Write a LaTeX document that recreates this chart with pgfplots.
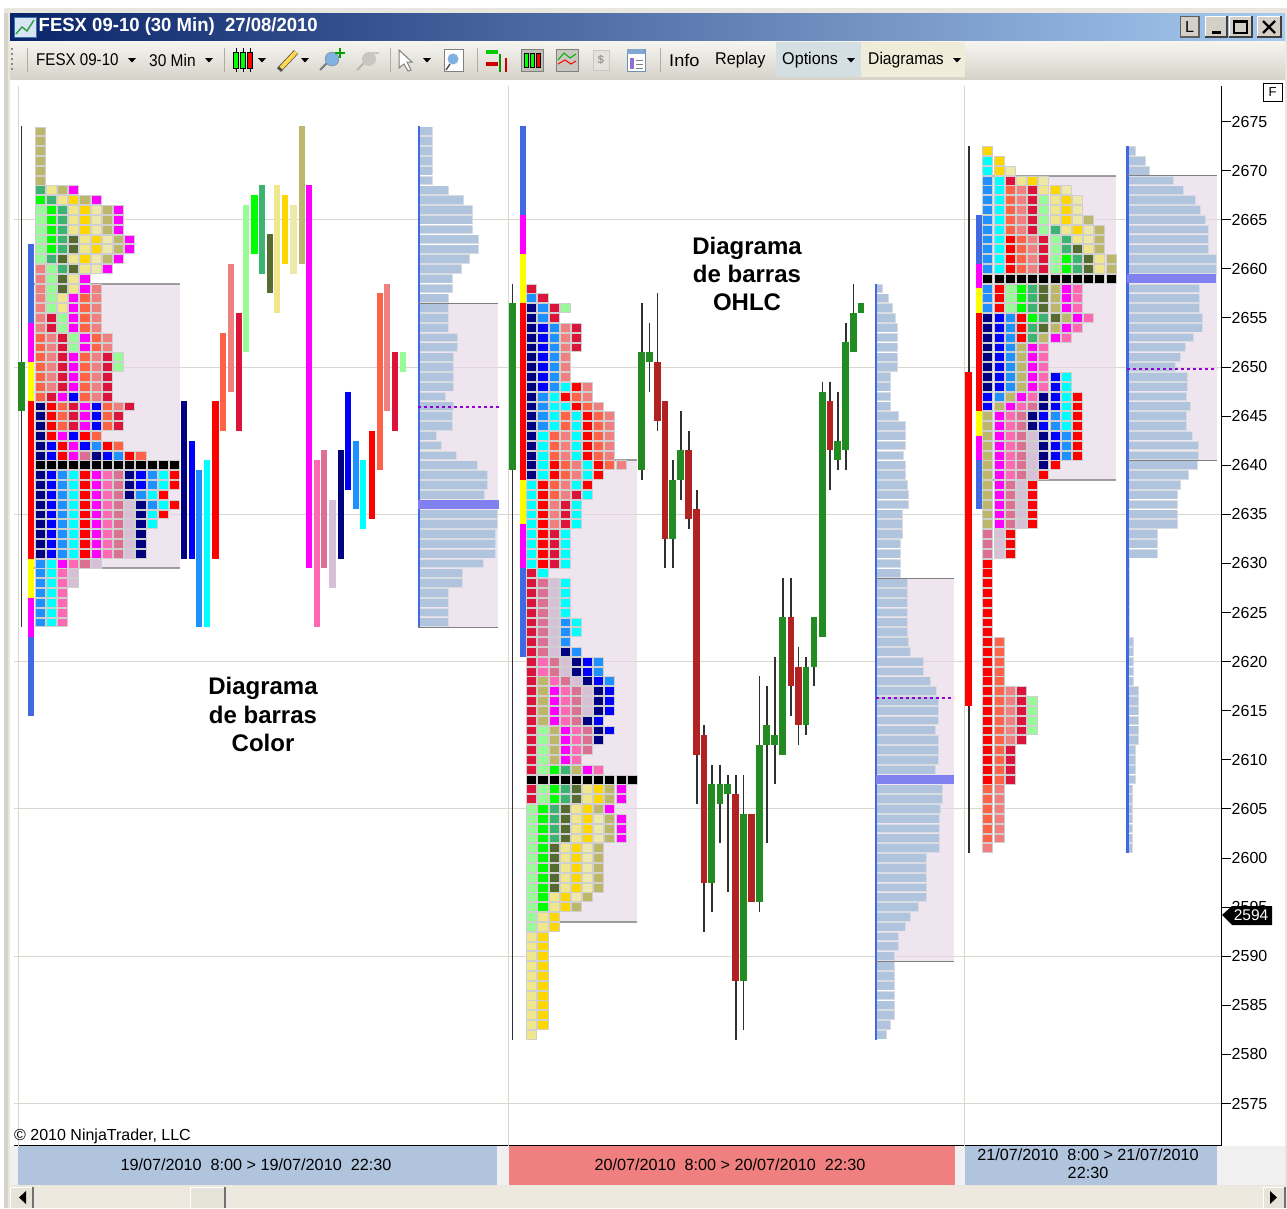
\documentclass[border=0pt]{standalone}
\usepackage{fontspec}
\setmainfont{Liberation Sans}
\usepackage{pgfplots}
\usepackage{pgfplotstable}
\pgfplotsset{compat=1.18}
\newcommand{\hc}[1]{\definecolor{#1}{HTML}{#1}}
\hc{E8E6DE}\hc{D6D3C9}\hc{0A246A}\hc{A6CAF0}\hc{F6F5F0}\hc{D6D3CA}\hc{D8E6F4}\hc{3C70B0}\hc{2E9B3C}\hc{D4D0C8}\hc{404040}\hc{606060}\hc{D3DFE3}\hc{EFECD9}\hc{8A8A80}\hc{B0ADA2}\hc{FFD94A}\hc{7A7A7A}\hc{7FB2E0}\hc{00A000}\hc{B8B6AE}\hc{C8C6BE}\hc{C0C0B8}\hc{C8C8C0}\hc{E4E2DC}\hc{7090B0}\hc{7FA8D0}\hc{9070D0}\hc{F0F0F0}\hc{EDE9DE}\hc{E6E3D8}\hc{707070}
\definecolor{cA}{HTML}{000080}\definecolor{cB}{HTML}{0000FF}\definecolor{cC}{HTML}{1E90FF}\definecolor{cD}{HTML}{00FFFF}
\definecolor{cE}{HTML}{FF0000}\definecolor{cF}{HTML}{FF6347}\definecolor{cG}{HTML}{F08080}\definecolor{cH}{HTML}{DC143C}
\definecolor{cI}{HTML}{98FB98}\definecolor{cJ}{HTML}{00FF00}\definecolor{cK}{HTML}{3CB371}\definecolor{cL}{HTML}{556B2F}
\definecolor{cM}{HTML}{F0E68C}\definecolor{cN}{HTML}{FFD700}\definecolor{cO}{HTML}{EEE8AA}\definecolor{cP}{HTML}{BDB76B}
\definecolor{cQ}{HTML}{FF00FF}\definecolor{cR}{HTML}{FF69B4}\definecolor{cS}{HTML}{DB7093}\definecolor{cT}{HTML}{D8BFD8}
\definecolor{cY}{HTML}{FFFF00}\definecolor{cV}{HTML}{4169E1}
\definecolor{cellb}{HTML}{CFCFCF}\definecolor{gridc}{HTML}{DAD7CF}\definecolor{vac}{HTML}{E6D6E6}
\definecolor{prof}{HTML}{B0C4DE}\definecolor{profb}{HTML}{D9DCE0}\definecolor{poc}{HTML}{8080F0}
\definecolor{cgreen}{HTML}{228B22}\definecolor{cred}{HTML}{B22222}\definecolor{dots}{HTML}{9400D3}
\definecolor{wick}{HTML}{303030}
\pgfdeclareplotmark{tpo}{\pgfpathrectangle{\pgfpoint{-5.05pt}{-4.45pt}}{\pgfpoint{10.1pt}{8.9pt}}\pgfusepathqfillstroke}
\pgfplotstableread{
p c0 c1 c2 c3 c4 c5 c6 c7 c8 c9 c10 c11 c12
2674 p z z z z z z z z z z z z
2673 p z z z z z z z z z z z z
2672 p z z z z z z z z z z z z
2671 p z z z z z z z z z z z z
2670 p z z z z z z z z z z z z
2669 p z z z z z z z z z z z z
2668 k m p q z z z z z z z z z
2667 j k m n p q z z z z z z z
2666 i j k m n o p q z z z z z
2665 i j k m n o p q z z z z z
2664 i j k m n o p q z z z z z
2663 i j k l m n o p q z z z z
2662 i j k l m n o p q z z z z
2661 i k l m n o p q z z z z z
2660 g i k l m o q z z z z z z
2659 g i l m q z z z z z z z z
2658 g i l m q g z z z z z z z
2657 g i m q f g z z z z z z z
2656 g i m q f g z z z z z z z
2655 g h i q f g z z z z z z z
2654 g h i q f g z z z z z z z
2653 f g h i q f g z z z z z z
2652 f g h i q f g z z z z z z
2651 f g h q f g h i z z z z z
2650 f g h q f g h i z z z z z
2649 f g h q f g h z z z z z z
2648 f g h q f g h z z z z z z
2647 f h q b f g h z z z z z z
2646 a e f h q b f g h z z z z
2645 a e f h q b f h z z z z z
2644 a e f h q b f h z z z z z
2643 a e q b e f z z z z z z z
2642 a b e q b c e f z z z z z
2641 a b e q s a b c e f z z z
2640 u u u u u u u u u u u u u
2639 a b c d e q r s a b c d e
2638 a b c d e q r s a b c d e
2637 a b c d e q r s a c d e z
2636 a b c d e q r s t a c d e
2635 a b c d e q r s t a d e z
2634 a b c d e q r s t a d z z
2633 a b c d e q r s t a z z z
2632 a b c d e q r s t a z z z
2631 a b c d e q r s t a z z z
2630 c d q r s t z z z z z z z
2629 c d r t z z z z z z z z z
2628 c d r t z z z z z z z z z
2627 c d r z z z z z z z z z z
2626 c d r z z z z z z z z z z
2625 c d r z z z z z z z z z z
2624 c d r z z z z z z z z z z
}\sessA
\pgfplotstableread{
p c0 c1 c2 c3 c4 c5 c6 c7 c8 c9
2658 h z z z z z z z z z
2657 c h z z z z z z z z
2656 a c h i z z z z z z
2655 a c h z z z z z z z
2654 a b c g h z z z z z
2653 a b c g h z z z z z
2652 a b c g h z z z z z
2651 a b c g z z z z z z
2650 a b c g z z z z z z
2649 a b c g z z z z z z
2648 a b c d e g z z z z
2647 a c d e f g z z z z
2646 a c d d e f g z z z
2645 a c d f d e f g z z
2644 a c d f d e f g z z
2643 a d f g d e f g z z
2642 a d f g d e f g z z
2641 a d f g d e f g z z
2640 a d e f g d e f g z
2639 a d e f g d e z z z
2638 d e f g d e z z z z
2637 d e f g h d z z z z
2636 d e g h d z z z z z
2635 d e g h d z z z z z
2634 d e g h d z z z z z
2633 d e h d z z z z z z
2632 d e h d z z z z z z
2631 d e h d z z z z z z
2630 d e h d z z z z z z
2629 h d z z z z z z z z
2628 h s t d z z z z z z
2627 h s t d z z z z z z
2626 h s t d z z z z z z
2625 h s t d z z z z z z
2624 h s t c d z z z z z
2623 h s t c d z z z z z
2622 h s t c z z z z z z
2621 h s t a c z z z z z
2620 h r s t a b c z z z
2619 h r s t a b c z z z
2618 h p r s t a b c z z
2617 h p q r s t a b z z
2616 h p q r s t a b z z
2615 h p q r s t a b z z
2614 h p q r s a b z z z
2613 h i p q r s a b z z
2612 h i p q r s a z z z
2611 h i p q r s z z z z
2610 h i p q r z z z z z
2609 h i j k p q r z z z
2608 u u u u u u u u u u
2607 h i j k l m n p q z
2606 h i j k l m n p q z
2605 i j k l m n p q z z
2604 i j k l m n o p q z
2603 i j k l m n o p q z
2602 i j k l m n o p q z
2601 i j l m n o p z z z
2600 i j l m n o p z z z
2599 i j l m n o p z z z
2598 i j l m n o p z z z
2597 i j l m n o p z z z
2596 i j m n o p z z z z
2595 i j m n p z z z z z
2594 i m n z z z z z z z
2593 i m n z z z z z z z
2592 m n z z z z z z z z
2591 m n z z z z z z z z
2590 m n z z z z z z z z
2589 m n z z z z z z z z
2588 m n z z z z z z z z
2587 m n z z z z z z z z
2586 m n z z z z z z z z
2585 m n z z z z z z z z
2584 m n z z z z z z z z
2583 m n z z z z z z z z
2582 m z z z z z z z z z
}\sessB
\pgfplotstableread{
p c0 c1 c2 c3 c4 c5 c6 c7 c8 c9 c10 c11
2672 n z z z z z z z z z z z
2671 d n z z z z z z z z z z
2670 d n o z z z z z z z z z
2669 c d h m n o z z z z z z
2668 c d f g h m n o z z z z
2667 c d f g h i m n o z z z
2666 c d f g h i m n o z z z
2665 c d f g h i m n o p z z
2664 c d f g h i k m n o p z
2663 c d e f g h i k m o p z
2662 c d e f g h i k l m p z
2661 c d e f g h i j k l m p
2660 c d e f g h i j k l m p
2659 u u u u u u u u u u u u
2658 c e i j k l p q r z z z
2657 c e i j k l p q r z z z
2656 c e i j k l p q r z z z
2655 a b c e j k l p q r z z
2654 a b c e k l p q r z z z
2653 a b c e k p q r z z z z
2652 a b c p q r z z z z z z
2651 a b c p q r z z z z z z
2650 a b c p q r z z z z z z
2649 a b c p q r b d z z z z
2648 a b c p q r b d z z z z
2647 b c p q r a b d e z z z
2646 b p q r s a b d e z z z
2645 p q r s a b c d e z z z
2644 p q r s a b c d e z z z
2643 p q r s t a b c e z z z
2642 p q r s t a b c e z z z
2641 p q r s t a b c e z z z
2640 p q r s t a e z z z z z
2639 p q r s t e z z z z z z
2638 p q s t e z z z z z z z
2637 p q s t e z z z z z z z
2636 p q s t e z z z z z z z
2635 p q s t e z z z z z z z
2634 p q s t e z z z z z z z
2633 s t e z z z z z z z z z
2632 s t e z z z z z z z z z
2631 s t e z z z z z z z z z
2630 e z z z z z z z z z z z
2629 e z z z z z z z z z z z
2628 e z z z z z z z z z z z
2627 e z z z z z z z z z z z
2626 e z z z z z z z z z z z
2625 e z z z z z z z z z z z
2624 e z z z z z z z z z z z
2623 e z z z z z z z z z z z
2622 e f z z z z z z z z z z
2621 e f z z z z z z z z z z
2620 e f z z z z z z z z z z
2619 e f z z z z z z z z z z
2618 e f z z z z z z z z z z
2617 e f g h z z z z z z z z
2616 e f g h i z z z z z z z
2615 e f g h i z z z z z z z
2614 e f g h i z z z z z z z
2613 e f g h i z z z z z z z
2612 e f g h z z z z z z z z
2611 e f h z z z z z z z z z
2610 e f h z z z z z z z z z
2609 e f h z z z z z z z z z
2608 e f h z z z z z z z z z
2607 f g z z z z z z z z z z
2606 f g z z z z z z z z z z
2605 f g z z z z z z z z z z
2604 f g z z z z z z z z z z
2603 f g z z z z z z z z z z
2602 f g z z z z z z z z z z
2601 g z z z z z z z z z z z
}\sessC
% right-hand profiles: price, right end of the bar
\pgfplotstableread{
p r
2674 431.7
2673 431.7
2672 431.7
2671 431.7
2670 431.7
2669 431.7
2668 448.3
2667 463.3
2666 472.3
2665 472.3
2664 472.3
2663 478.3
2662 478.3
2661 469.3
2660 460.7
2659 451.7
2658 451.7
2657 448.3
2656 448.3
2655 448.3
2654 448.3
2653 457.3
2652 457.3
2651 452.7
2650 452.7
2649 452.7
2648 452.7
2647 445
2646 453.3
2645 451.7
2644 451.7
2643 436
2642 441
2641 456
2640 476.7
2639 487
2638 487
2637 484.3
2635 496.7
2634 496.7
2633 495
2632 495
2631 495
2630 482.7
2629 461.7
2628 461.7
2627 448.3
2626 448.3
2625 448.3
2624 448.3
}\profA
\pgfplotstableread{
p r
2658 882
2657 888
2656 892
2655 895
2654 897
2653 897
2652 897
2651 897
2650 897
2649 890
2648 890
2647 890
2646 890
2645 898
2644 905
2643 905
2642 905
2641 903
2640 905
2639 905
2638 907
2637 908
2636 908
2635 902
2634 902
2633 902
2632 900
2631 900
2630 900
2629 900
2628 907
2627 907
2626 907
2625 907
2624 907
2623 907
2622 908
2621 910
2620 923
2619 923
2618 930
2617 936
2616 938
2615 938
2614 938
2613 935
2612 938
2611 938
2610 938
2609 935
2607 942
2606 942
2605 940
2604 939
2603 939
2602 939
2601 939
2600 926
2599 926
2598 926
2597 926
2596 926
2595 918
2594 910
2593 905
2592 898
2591 898
2590 894
2589 894
2588 894
2587 894
2586 894
2585 894
2584 894
2583 890
2582 886
}\profB
\pgfplotstableread{
p r
2672 1135
2671 1145
2670 1149
2669 1173
2668 1183
2667 1195
2666 1200
2665 1205
2664 1208
2663 1208
2662 1208
2661 1216
2660 1216
2658 1199
2657 1199
2656 1199
2655 1202
2654 1202
2653 1193
2652 1185
2651 1180
2650 1175
2649 1187
2648 1187
2647 1186
2646 1190
2645 1186
2644 1186
2643 1192
2642 1198
2641 1198
2640 1197
2639 1188
2638 1180
2637 1177
2636 1177
2635 1177
2634 1177
2633 1157
2632 1157
2631 1157
2630 1129
2629 1129
2628 1129
2627 1129
2626 1129
2625 1129
2624 1129
2623 1129
2622 1133
2621 1133
2620 1133
2619 1133
2618 1133
2617 1138
2616 1138
2615 1138
2614 1138
2613 1138
2612 1138
2611 1135
2610 1135
2609 1135
2608 1135
2607 1132
2606 1132
2605 1132
2604 1132
2603 1132
2602 1132
2601 1132
}\profC
% candles: x, high, low, body top, body bottom
\pgfplotstableread{
x hi lo top bot
641.7 2656.5 2638.5 2651.5 2639.5
649.3 2654.5 2647.5 2651.5 2650.5
672.7 2640.5 2629.5 2638.5 2632.5
680.7 2645.5 2636.5 2641.5 2638.5
711.7 2609.5 2594.5 2607.5 2597.5
720 2609.5 2601.5 2607.5 2605.5
727.7 2608.5 2596.5 2607.5 2606.5
743.3 2608.5 2582.5 2604.5 2587.5
759.3 2618.5 2594.5 2611.5 2595.5
766.7 2617.5 2601.5 2613.5 2611.5
774.7 2620.5 2607.5 2612.5 2611.5
782.7 2628.5 2610.5 2624.5 2610.5
806 2620.5 2612.5 2619.5 2613.5
814 2624.5 2617.5 2624.5 2619.5
822.3 2648.5 2622.5 2647.5 2622.5
837.7 2647.5 2639.5 2642.5 2640.5
845.7 2654.5 2639.5 2652.5 2641.5
853.3 2658.5 2651.5 2655.5 2651.5
861 2656.5 2655.5 2656.5 2655.5
512.5 2658.5 2581.5 2656.5 2639.5
21.5 2674.5 2623.5 2650.5 2645.5
}\candG
\pgfplotstableread{
x hi lo top bot
657.3 2657.5 2643.5 2650.5 2644.5
665 2646.5 2629.5 2646.5 2632.5
688.7 2643.5 2633.5 2641.5 2634.5
696.7 2637.5 2605.5 2635.5 2610.5
704 2613.5 2592.5 2612.5 2597.5
735.7 2608.5 2581.5 2606.5 2587.5
751.3 2604.5 2595.5 2604.5 2595.5
791 2628.5 2614.5 2624.5 2617.5
798.3 2621.5 2611.5 2619.5 2613.5
830 2648.5 2637.5 2646.5 2641.5
}\candR
\pgfplotsset{nomark/.style={only marks,mark size=0pt,mark options={draw=none,fill=none},forget plot}}
\newcommand{\cnd}[3]{%
 \addplot[nomark,error bars/.cd,y dir=minus,y explicit,error mark=none,error bar style={line width=1.6pt,color=wick,solid}]
  table[x=x,y=hi,y error minus expr=\thisrow{hi}-\thisrow{lo}]{#1};
 \addplot[nomark,error bars/.cd,y dir=minus,y explicit,error mark=none,error bar style={line width=#3pt,color=#2,solid}]
  table[x=x,y=top,y error minus expr=\thisrow{top}-\thisrow{bot}]{#1};}
\newcommand{\prf}[2]{%
 \addplot[nomark,error bars/.cd,x dir=minus,x explicit,error mark=none,error bar style={line width=9.4pt,color=profb,solid}]
  table[x expr=\thisrow{r}+1,y=p,x error minus expr=\thisrow{r}+1-#2]{#1};
 \addplot[nomark,error bars/.cd,x dir=minus,x explicit,error mark=none,error bar style={line width=7.8pt,color=prof,solid}]
  table[x=r,y=p,x error minus expr=\thisrow{r}-#2]{#1};}
\newcommand{\vb}[5]{\addplot[line width=#3pt,color=#2,forget plot] coordinates {(#1,#4)(#1,#5)};}
\newcommand{\hl}[4]{\addplot[#4,forget plot] coordinates {(#1,#3)(#2,#3)};}
\newcommand{\va}[4]{\addplot[fill=vac,fill opacity=.62,draw=none,forget plot] coordinates {(#1,#3)(#2,#3)(#2,#4)(#1,#4)} -- cycle;}
\newcommand{\cells}[4]{\pgfplotsinvokeforeach{0,...,#3}{%
 \addplot[scatter,only marks,forget plot,point meta=explicit symbolic,cellcl] table[x expr=#2*##1+#4,y=p,meta=c##1]{#1};}}
\tikzset{cell/.style={mark=tpo,line width=.7pt,draw=cellb}}
\pgfplotsset{
 cellcl/.style={scatter/classes={
 a={cell,fill=cA},b={cell,fill=cB},c={cell,fill=cC},d={cell,fill=cD},e={cell,fill=cE},f={cell,fill=cF},g={cell,fill=cG},
 h={cell,fill=cH},i={cell,fill=cI},j={cell,fill=cJ},k={cell,fill=cK},l={cell,fill=cL},m={cell,fill=cM},n={cell,fill=cN},
 o={cell,fill=cO},p={cell,fill=cP},q={cell,fill=cQ},r={cell,fill=cR},s={cell,fill=cS},t={cell,fill=cT},u={cell,fill=black},
 z={mark=none}}}}
\newcommand{\fs}[1]{\fontsize{#1}{#1}\selectfont}
\newcommand{\tri}[2]{\fill[black] (#1-4,#2-2) -- (#1+4,#2-2) -- (#1,#2+2.5) -- cycle;}
\begin{document}
\begin{tikzpicture}
\begin{scope}[x=1pt,y=-1pt]
\useasboundingbox (0,0) rectangle (1287,1208);
\fill[white] (0,0) rectangle (1287,1208);
\fill[E8E6DE] (4,8) rectangle (1287,1208);
\fill[D6D3C9] (4,13) rectangle (8,1208);
\shade[left color=0A246A,right color=A6CAF0] (10,13) rectangle (1285,40);
\shade[top color=F6F5F0,bottom color=D6D3CA] (10,41) rectangle (1285,79);
\fill[white] (10,80) rectangle (1285,1185);
% title bar
\fill[D8E6F4] (14,17) rectangle (36,37);
\draw[3C70B0,line width=.6pt] (14,17) rectangle (36,37);
\draw[2E9B3C,line width=1.4pt] (16,34) -- (22,27) -- (27,31) -- (34,20);
\node[anchor=west,inner sep=0pt,text=white] at (38.5,27) {\scalebox{1.09}[1.12]{\bfseries\fs{17}FESX 09-10 (30 Min)\ \ 27/08/2010}};
\foreach \a/\b in {1180/1199,1205/1227,1229/1252,1257/1281}{\fill[D4D0C8] (\a,16) rectangle (\b,37);\draw[white,line width=1pt] (\a,37) -- (\a,16) -- (\b,16);\draw[404040,line width=1.2pt] (\b,16) -- (\b,37) -- (\a,37);}
\draw[606060,line width=1.4pt] (1180.5,16.5) rectangle (1199,37);
\node[inner sep=0pt] at (1189.5,27) {\fs{16}L};
\fill[black] (1212,31) rectangle (1221,34);
\draw[black,line width=1.4pt] (1234,21) rectangle (1247,33);\fill[black] (1234,20) rectangle (1247,23);
\draw[black,line width=2.2pt] (1263,21) -- (1275,33) (1275,21) -- (1263,33);
% toolbar
\fill[D3DFE3] (776,42) rectangle (861,77);
\fill[EFECD9] (861,42) rectangle (965,77);
\foreach \yy in {48,53,58,63,68}{\fill[8A8A80] (11,\yy) rectangle (13,\yy+2);}
\foreach \xx in {27,224,390,477,660}{\draw[B0ADA2,line width=1pt] (\xx,48) -- (\xx,72);}
\node[anchor=west,inner sep=0pt] at (36,60) {\fs{17}\scalebox{.89}[1]{FESX 09-10}};
\node[anchor=west,inner sep=0pt] at (149,60) {\fs{17}\scalebox{.91}[1]{30 Min}};
\node[anchor=west,inner sep=0pt] at (669,60) {\fs{17}\scalebox{1.07}[1]{Info}};
\node[anchor=west,inner sep=0pt] at (715,60) {\fs{17}\scalebox{.95}[1]{Replay}};
\node[anchor=west,inner sep=0pt] at (782,60) {\fs{17}\scalebox{.95}[1]{Options}};
\node[anchor=west,inner sep=0pt] at (868,60) {\fs{17}\scalebox{.92}[1]{Diagramas}};
\tri{132}{60}\tri{209}{60}\tri{262}{60}\tri{305}{60}\tri{427}{60}\tri{851}{60}\tri{957}{60}
% toolbar icons
\foreach \xx/\cc in {236/cJ,243/cJ,250/cE}{\draw[black,line width=.5pt] (\xx,48) -- (\xx,72);\fill[\cc,draw=black,line width=.5pt] (\xx-2.5,52) rectangle (\xx+2.5,68);}
\draw[black!70,line width=5.5pt] (279,70) -- (296,52);\draw[FFD94A,line width=4pt] (281,68) -- (296,52);
\draw[7A7A7A,line width=2pt] (320,70) -- (327,63);\fill[7FB2E0,draw=gray] (332,59) circle (7);
\draw[00A000,line width=2.6pt] (340,48) -- (340,58) (335,53) -- (345,53);
\draw[B8B6AE,line width=2pt] (357,70) -- (364,63);\fill[C8C6BE] (369,59) circle (7);\draw[C8C6BE,line width=2pt] (371,53) -- (379,53);
\fill[white,draw=gray,line width=1pt] (399,50) -- (412,62) -- (407,62) -- (411,70) -- (408,71) -- (404,64) -- (399,68) -- cycle;
\fill[white,draw=gray,line width=1pt] (444,49) rectangle (463,71);\fill[7FB2E0] (453,59) circle (5.5);\draw[black!70,line width=1.5pt] (446,70) -- (450,64);
\fill[cJ!80!black] (486,50) rectangle (498,54);\fill[cE!80!black] (486,62) rectangle (498,66);\draw[cJ!60!black,line width=2pt] (500,54) -- (500,72);\draw[cE!80!black,line width=2pt] (506,58) -- (506,72);
\fill[C0C0B8,draw=gray] (521,49) rectangle (543,71);
\foreach \xx/\cc in {526/cJ,532/cJ,538/cE}{\fill[\cc,draw=black,line width=.4pt] (\xx-2,53) rectangle (\xx+2,67);}
\fill[C8C8C0,draw=gray] (556,49) rectangle (578,71);\draw[cJ!70!black,line width=1pt] (558,60) -- (564,53) -- (570,58) -- (576,54);\draw[cE,line width=1pt] (558,64) -- (565,60) -- (571,64) -- (576,61);
\fill[E4E2DC,draw=C8C6BE] (593,50) rectangle (609,70);\node[inner sep=0pt,text=gray] at (601,60) {\fs{11}\$};
\fill[white,draw=7090B0] (627,49) rectangle (645,71);\fill[7FA8D0] (627,49) rectangle (645,54);\fill[9070D0] (630,58) rectangle (634,69);\draw[gray,line width=.6pt] (636,60) -- (643,60) (636,64) -- (643,64) (636,68) -- (643,68);
% date boxes
\fill[F0F0F0] (10,1146) rectangle (1285,1185);
\fill[prof] (18,1146) rectangle (497,1185);
\fill[cG] (509,1146) rectangle (955,1185);
\fill[prof] (965,1146) rectangle (1217,1185);
\node[inner sep=0pt] at (256,1165) {\fs{16.2}19/07/2010\ \ 8:00 > 19/07/2010\ \ 22:30};
\node[inner sep=0pt] at (730,1165) {\fs{16.2}20/07/2010\ \ 8:00 > 20/07/2010\ \ 22:30};
\node[inner sep=0pt] at (1088,1155) {\fs{16.2}21/07/2010\ \ 8:00 > 21/07/2010};
\node[inner sep=0pt] at (1088,1173) {\fs{16.2}22:30};
% scrollbar
\fill[EDE9DE] (10,1186) rectangle (1285,1208);
\foreach \a/\b in {10/33,190/225,1263/1285}{\fill[E6E3D8] (\a,1187) rectangle (\b,1208);\draw[white,line width=1pt] (\a,1208) -- (\a,1187) -- (\b,1187);\draw[707070,line width=1.2pt] (\b,1187) -- (\b,1208);}
\fill[black] (26,1191) -- (26,1204) -- (19,1197.5) -- cycle;
\fill[black] (1270,1191) -- (1270,1204) -- (1277,1197.5) -- cycle;
\end{scope}
\begin{axis}[at={(14pt,-1145.5pt)},anchor=south west,scale only axis,width=1207pt,height=1060pt,
 xmin=14,xmax=1221,ymin=2570.72,ymax=2678.67,
 axis y line=right,axis x line=bottom,axis line style={-,black,line width=1pt},
 xtick=\empty,ytick={2575,2580,...,2675},tick align=outside,major tick length=10pt,
 tick style={black,line width=.9pt},
 /pgf/number format/assume math mode=true,/pgf/number format/fixed,/pgf/number format/1000 sep={},
 yticklabel style={font=\fs{16},inner sep=0pt,xshift=0.5pt},
 extra y ticks={2575,2590,2605,2620,2635,2650,2665},extra y tick labels={},
 extra y tick style={grid=major,major tick length=0pt,major grid style={gridc,line width=1pt}},
 extra x ticks={18,508,964},extra x tick labels={},
 extra x tick style={grid=major,major tick length=0pt,major grid style={gridc,line width=1pt}},
]
% value areas
\va{34}{180}{2658.5}{2629.5}\va{418}{498}{2656.5}{2623.5}
\va{527}{637}{2640.5}{2593.5}\va{876}{954}{2628.5}{2589.5}
\va{982}{1116}{2669.5}{2638.5}\va{1127}{1217}{2669.5}{2640.5}
% volume profiles
\prf{\profA}{419}\prf{\profB}{876}\prf{\profC}{1127}
\vb{418.5}{cV}{2}{2674.5}{2623.5}\vb{876}{cV}{2}{2658.5}{2581.5}\vb{1127.5}{cV}{2.6}{2672.5}{2600.5}
\hl{418}{499}{2636}{poc,line width=8.6pt}\hl{876}{954}{2608}{poc,line width=8.6pt}\hl{1127}{1216}{2659}{poc,line width=8.6pt}
\hl{418}{499}{2645.9}{dots,line width=2.4pt,dash pattern=on 3pt off 3pt}
\hl{876}{954}{2616.3}{dots,line width=2.4pt,dash pattern=on 3pt off 3pt}
\hl{1127}{1217}{2649.8}{dots,line width=2.4pt,dash pattern=on 3pt off 3pt}
% TPO cells
\cells{\sessA}{11.2}{12}{40}
\cells{\sessB}{11.15}{9}{531.7}
\cells{\sessC}{11.2}{11}{987.7}
% value-area edges
\hl{34}{180}{2658.5}{gray,opacity=.75,line width=2pt}\hl{34}{180}{2629.5}{gray,opacity=.75,line width=2pt}
\hl{418}{498}{2656.5}{gray,line width=1.2pt}\hl{418}{498}{2623.5}{gray,line width=1.2pt}
\hl{527}{637}{2640.5}{gray,opacity=.75,line width=2pt}\hl{527}{637}{2593.5}{gray,opacity=.75,line width=2pt}
\hl{876}{954}{2628.5}{gray,line width=1.2pt}\hl{876}{954}{2589.5}{gray,line width=1.2pt}
\hl{982}{1116}{2669.5}{gray,opacity=.75,line width=2pt}\hl{982}{1116}{2638.5}{gray,opacity=.75,line width=2pt}
\hl{1127}{1217}{2669.5}{gray,line width=1.2pt}\hl{1127}{1217}{2640.5}{gray,line width=1.2pt}
% period bars, session 1
\vb{184.3}{cA}{6.2}{2646.5}{2630.5}\vb{192}{cB}{6.2}{2642.5}{2630.5}\vb{199.3}{cC}{6.2}{2639.5}{2623.5}\vb{207}{cD}{6.2}{2640.5}{2623.5}
\vb{215.3}{cE}{7.4}{2646.5}{2630.5}\vb{223.3}{cF}{6.2}{2653.5}{2643.5}\vb{231}{cG}{6.2}{2660.5}{2647.5}\vb{238.7}{cH}{6.2}{2655.5}{2643.5}
\vb{246}{cI}{6.2}{2666.5}{2651.5}\vb{254.3}{cJ}{7.4}{2667.5}{2661.5}\vb{262.3}{cK}{6.2}{2668.5}{2659.5}\vb{270.3}{cL}{6.2}{2663.5}{2657.5}
\vb{277.3}{cM}{6.2}{2668.5}{2655.5}\vb{285.3}{cN}{6.2}{2667.5}{2660.5}\vb{293.3}{cO}{7}{2666.5}{2659.5}\vb{301.7}{cP}{6.2}{2674.5}{2660.5}
\vb{309.3}{cQ}{6.2}{2668.5}{2629.5}\vb{316.7}{cR}{6.2}{2640.5}{2623.5}\vb{324.3}{cS}{6.2}{2641.5}{2629.5}\vb{332.7}{cT}{7}{2636.5}{2627.5}
\vb{341}{cA}{6.2}{2641.5}{2630.5}\vb{348.3}{cB}{6.2}{2647.5}{2637.5}\vb{356}{cC}{6.2}{2642.5}{2635.5}\vb{363.3}{cD}{6.2}{2640.5}{2633.5}
\vb{372.3}{cE}{6.2}{2643.5}{2634.5}\vb{380}{cF}{6.2}{2657.5}{2639.5}\vb{387.3}{cG}{6.2}{2658.5}{2645.5}\vb{395}{cH}{6.2}{2651.5}{2643.5}\vb{402.7}{cI}{6.2}{2651.5}{2649.5}
% composite bars left of each profile
\vb{31}{cV}{6}{2662.5}{2654.5}\vb{31}{cQ}{6}{2654.5}{2650.5}\vb{31}{cY}{6}{2650.5}{2646.5}\vb{31}{cE}{6}{2646.5}{2630.5}\vb{31}{cY}{6}{2630.5}{2626.5}\vb{31}{cQ}{6}{2626.5}{2622.5}\vb{31}{cV}{6}{2622.5}{2614.5}
\vb{523}{cV}{6}{2674.5}{2665.5}\vb{523}{cQ}{6}{2665.5}{2661.5}\vb{523}{cY}{6}{2661.5}{2656.5}\vb{523}{cE}{6}{2656.5}{2638.5}\vb{523}{cY}{6}{2638.5}{2634}\vb{523}{cQ}{6}{2634}{2629.5}\vb{523}{cV}{6}{2629.5}{2620.5}
\vb{978.7}{cV}{6}{2665.5}{2660.5}\vb{978.7}{cQ}{6}{2660.5}{2658}\vb{978.7}{cY}{6}{2658}{2655.5}\vb{978.7}{cE}{6}{2655.5}{2645.5}\vb{978.7}{cY}{6}{2645.5}{2643}\vb{978.7}{cQ}{6}{2643}{2640.5}\vb{978.7}{cV}{6}{2640.5}{2635.5}
% candles
\cnd{\candG}{cgreen}{6.6}
\cnd{\candR}{cred}{6.6}
\vb{968.7}{wick}{1.6}{2672.5}{2600.5}
\vb{968}{cE}{7}{2649.5}{2615.5}
\end{axis}
\begin{scope}[x=1pt,y=-1pt]
\fill[black] (1222,915) -- (1232,906) -- (1272,906) -- (1272,925) -- (1232,925) -- cycle;
\node[inner sep=0pt,text=white] at (1251,915.5) {\fs{15.5}2594};
\fill[white,draw=black,line width=1pt] (1263,83) rectangle (1282,101);
\node[inner sep=0pt] at (1272.5,92) {\fs{13}F};
\node[anchor=west,inner sep=0pt] at (14,1136) {\fs{16}© 2010 NinjaTrader, LLC};
\node[inner sep=0pt] at (263,688) {\fs{24}\bfseries Diagrama};
\node[inner sep=0pt] at (263,715) {\fs{24}\bfseries de barras};
\node[inner sep=0pt] at (263,743) {\fs{24}\bfseries Color};
\node[inner sep=0pt] at (747,248) {\fs{24}\bfseries Diagrama};
\node[inner sep=0pt] at (747,274) {\fs{24}\bfseries de barras};
\node[inner sep=0pt] at (747,302) {\fs{24}\bfseries OHLC};
\end{scope}
\end{tikzpicture}
\end{document}
